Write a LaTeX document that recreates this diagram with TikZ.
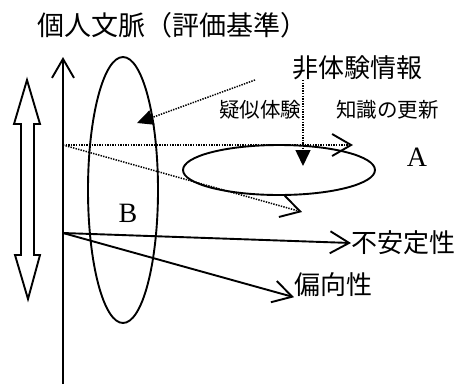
\documentclass[tikz,border=0pt]{standalone}
\usepackage{fontspec}
\newfontfamily\jp{Noto Sans CJK JP}
\newfontfamily\tms{Liberation Serif}
\usetikzlibrary{arrows.meta,shapes.geometric}
\begin{document}
\begin{tikzpicture}[x=1pt,y=-1pt,
  solidline/.style={line width=1.9pt},
  openhead/.style={-{Straight Barb[length=19pt,width=22pt,line width=1.9pt]}},
  dotline/.style={line width=1.5pt,dash pattern=on 1.4pt off 1.2pt},
  filledhead/.style={-{Triangle[length=16pt,width=15pt]}},
  ell/.style={draw,ellipse,line width=1.9pt,inner sep=0pt,outer sep=0pt},
  jtitle/.style={font=\jp\fontsize{27}{27}\selectfont,inner sep=0pt},
  jbig/.style={font=\jp\fontsize{26}{26}\selectfont,inner sep=0pt},
  jsmall/.style={font=\jp\fontsize{20.5}{21}\selectfont,inner sep=0pt},
  latin/.style={font=\tms\fontsize{28}{28}\selectfont,inner sep=0pt}]
\useasboundingbox (0,0) rectangle (460,384);
\fill[white] (0,0) rectangle (460,384);
% coordinates
\coordinate (top) at (63,57);
\coordinate (bot) at (63,384);
\coordinate (O) at (63,233);
\coordinate (P) at (63,145);
\coordinate (dh) at (353,145);
\coordinate (dd) at (302,212);
\coordinate (ds) at (255,80);
\coordinate (de) at (137,123);
\coordinate (vs) at (303,80);
\coordinate (ve) at (303,166);
% ellipses
\node[ell,minimum width=70pt,minimum height=266pt] (E1) at (123,190) {};
\node[ell,minimum width=192pt,minimum height=50pt] (E2) at (279,170) {};
% double hollow arrow
\draw[solidline,line join=miter] (27,80) -- (40,124) -- (34,124) -- (34,255) -- (40,255)
  -- (28,299) -- (15,255) -- (21,255) -- (21,124) -- (14,124) -- cycle;
% texts
\node[jtitle,anchor=west] (title) at (37,25) {個人文脈（評価基準）};
\node[jbig,anchor=west] (nonexp) at (292,68) {非体験情報};
\node[jsmall,anchor=west] (pseudo) at (219,110) {疑似体験};
\node[jsmall,anchor=west] (update) at (336,110) {知識の更新};
\node[latin] (A) at (417,157) {A};
\node[latin] (B) at (128,213) {B};
\node[jbig,anchor=west] (unst) at (351,243) {不安定性};
\node[jbig,anchor=west] (bias) at (294,285) {偏向性};
% axes
\draw[solidline,openhead] (bot) -- (top);
\draw[solidline,openhead] (O) -- (unst.west);
\draw[solidline,openhead] (O) -- (bias.south west);
% dotted
\draw[dotline,openhead] (P) -- (dh);
\draw[dotline,openhead] (P) -- (dd);
\draw[dotline,filledhead] (ds) -- (de);
\draw[dotline,filledhead] (vs) -- (ve);
\end{tikzpicture}
\end{document}
